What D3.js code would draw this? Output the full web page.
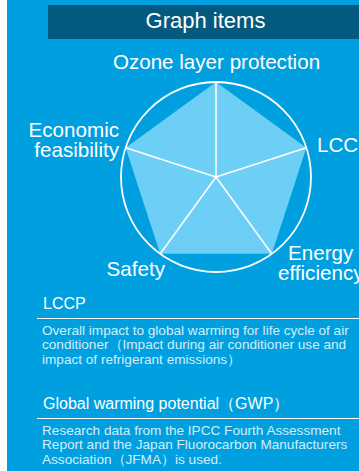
<!DOCTYPE html>
<html><head><meta charset="utf-8">
<script src="https://cdn.jsdelivr.net/npm/d3@7/dist/d3.min.js"></script>
<style>
html,body{margin:0;padding:0;background:#fff;}
svg{display:block;font-family:"Liberation Sans",Arial,Helvetica,sans-serif;}
</style></head>
<body>
<svg id="chart" width="359" height="471"></svg>
<script>
const title = "Graph items";
const axes = ["Ozone layer protection", "LCCP", "Energy efficiency", "Safety", "Economic feasibility"];
const values = [5, 5, 5, 5, 5];
const maxValue = 5;
const notes = [
  {title: "LCCP", lines: ["Overall impact to global warming for life cycle of air", "conditioner（Impact during air conditioner use and", "impact of refrigerant emissions）"]},
  {title: "Global warming potential（GWP）", lines: ["Research data from the IPCC Fourth Assessment", "Report and the Japan Fluorocarbon Manufacturers", "Association（JFMA）is used."]}
];

const svg = d3.select("#chart");
const W = 359, H = 471;
svg.append("rect").attr("x", 7).attr("y", 0).attr("width", W - 7).attr("height", H).attr("fill", "#00a0e0");
svg.append("rect").attr("x", 48).attr("y", 5).attr("width", W - 48).attr("height", 34).attr("fill", "#035a7e");
svg.append("text").attr("x", 205.5).attr("y", 28).attr("text-anchor", "middle")
  .attr("fill", "#fff").attr("font-size", 22).text(title);

const cx = 216, cy = 177, R = 95;
const r = d3.scaleLinear().domain([0, maxValue]).range([0, R]);
const angle = d3.scaleLinear().domain([0, axes.length]).range([0, 2 * Math.PI]);
const g = svg.append("g").attr("transform", `translate(${cx},${cy})`);

const pt = (i, v) => [r(v) * Math.sin(angle(i)), -r(v) * Math.cos(angle(i))];

g.append("path")
  .attr("d", d3.line()(values.map((v, i) => pt(i, v))) + "Z")
  .attr("fill", "#6dcff6");

g.selectAll("line.spoke").data(axes).join("line")
  .attr("x1", 0).attr("y1", 0)
  .attr("x2", (d, i) => pt(i, maxValue)[0])
  .attr("y2", (d, i) => pt(i, maxValue)[1])
  .attr("stroke", "#fff").attr("stroke-width", 1.6);

g.append("circle").attr("r", r(maxValue)).attr("fill", "none")
  .attr("stroke", "#fff").attr("stroke-width", 1.8);

// labels
const labelPos = [
  {x: 216.5, y: 69, anchor: "middle", lines: ["Ozone layer protection"]},
  {x: 317, y: 152, anchor: "start", lines: ["LCCP"]},
  {x: 278, y: 260, anchor: "start", lines: ["Energy", "efficiency"], dx: [10, 0]},
  {x: 165, y: 276, anchor: "end", lines: ["Safety"]},
  {x: 119, y: 137, anchor: "end", lines: ["Economic", "feasibility"]}
];
axes.forEach((a, i) => {
  const p = labelPos[i];
  const t = svg.append("text").attr("fill", "#fff").attr("font-size", 20.6)
    .attr("text-anchor", p.anchor);
  p.lines.forEach((ln, j) => {
    t.append("tspan").attr("x", p.x + (p.dx ? p.dx[j] : 0)).attr("y", p.y + j * 20).text(ln);
  });
});

// notes
const noteY = [309, 409];
notes.forEach((n, k) => {
  const y0 = noteY[k];
  svg.append("text").attr("x", 43).attr("y", y0).attr("fill", "#fff")
    .attr("font-size", 16).text(n.title);
  svg.append("line").attr("x1", 37).attr("x2", W).attr("y1", y0 + 9.5).attr("y2", y0 + 9.5)
    .attr("stroke", "#fff").attr("stroke-width", 1.2);
  n.lines.forEach((ln, j) => {
    svg.append("text").attr("x", 42).attr("y", y0 + 26 + j * 14.3)
      .attr("fill", "#d2eefa").attr("font-size", 13.6).text(ln);
  });
});
</script>
</body></html>
